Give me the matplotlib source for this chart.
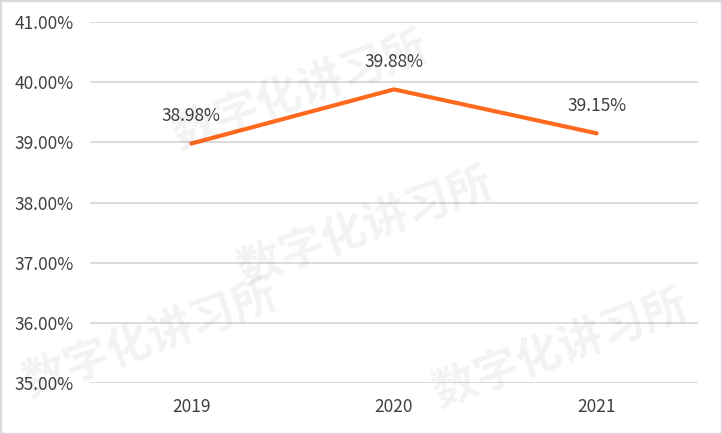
import matplotlib
matplotlib.use("Agg")
import matplotlib.pyplot as plt
from matplotlib.ticker import FuncFormatter
from matplotlib.patches import Rectangle

plt.rcParams['font.family'] = ['Noto Sans CJK SC', 'DejaVu Sans']

years = ["2019", "2020", "2021"]
values = [38.98, 39.88, 39.15]
yticks = [35, 36, 37, 38, 39, 40, 41]

W, H = 722, 434
fig = plt.figure(figsize=(W/100, H/100), dpi=100)
ax = fig.add_axes([90/W, 1-383/H, 608/W, (383-22)/H])

x = list(range(len(years)))
ax.plot(x, values, color='#FF6A1F', lw=3.0, solid_capstyle='round', zorder=3)
for xi, v in zip(x, values):
    ax.annotate(f"{v:.2f}%", (xi, v), xytext=(0, 13), textcoords='offset points',
                ha='center', va='bottom', fontsize=12.5, color='#404040')

ax.set_xlim(-0.5, 2.5)
ax.set_ylim(35, 41)
ax.set_yticks(yticks)
ax.yaxis.set_major_formatter(FuncFormatter(lambda v, p: f"{v:.2f}%"))
ax.set_xticks(x)
ax.set_xticklabels(years)
ax.grid(axis='y', color='#D9D9D9', lw=1.3)
ax.set_axisbelow(True)
for s in ax.spines.values():
    s.set_visible(False)
ax.tick_params(length=0, labelsize=12.5, labelcolor='#404040')
ax.tick_params(axis='y', pad=12)
ax.tick_params(axis='x', pad=11)

# watermarks
wm = dict(color='#000000', alpha=0.05, fontsize=32, fontweight='bold', rotation=20,
          ha='center', va='center', transform=fig.transFigure)
for (px, py) in [(300, 92), (365, 228), (150, 340), (560, 350)]:
    fig.text(px/W, 1-py/H, "数字化讲习所", **wm)

fig.patches.append(Rectangle((0, 0), 1, 1, transform=fig.transFigure, fill=False,
                             edgecolor='#D9D9D9', lw=2.5))
fig.savefig("out.png", dpi=100)
